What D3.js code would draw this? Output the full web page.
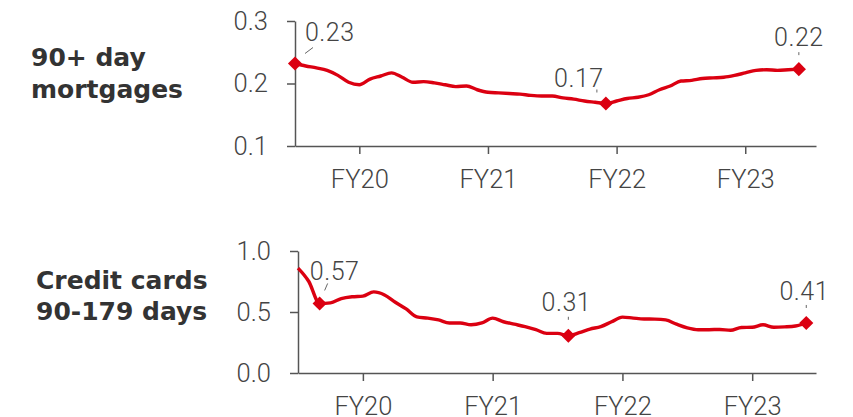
<!DOCTYPE html>
<html lang="en">
<head>
  <meta charset="utf-8">
  <title>Delinquency rates</title>
  <style>
    body { margin: 0; background: #fff; }
    .title { font-family: "DejaVu Sans", sans-serif; font-weight: bold; font-size: 25px; fill: #333; }
    .axis text { font-family: Roboto, sans-serif; font-weight: 300; font-size: 25.5px; fill: #444; }
    .axis path, .axis line { stroke: #555; stroke-width: 1.5px; }
    .note { font-family: Roboto, sans-serif; font-weight: 300; font-size: 25px; fill: #444; letter-spacing: 0.5px; }
    .leader { stroke: #666; stroke-width: 1px; }
    .series { fill: none; stroke: #db0011; stroke-width: 3.4px; stroke-linejoin: round; }
    .marker { fill: #db0011; }
  </style>
</head>
<body>
  <div id="chart"></div>

  <script src="https://cdn.jsdelivr.net/npm/d3@7"></script>
  <script>
    // monthly observations, month 0 = start of chart
    var months = d3.range(48);
    var fyLabels = ["FY20", "FY21", "FY22", "FY23"];
    var fyMonths = [6, 18, 30, 42];

    var mortgages = [0.232, 0.228, 0.225, 0.221, 0.213, 0.202, 0.198, 0.207, 0.212, 0.217,
      0.210, 0.202, 0.203, 0.201, 0.198, 0.195, 0.196, 0.190, 0.186, 0.185,
      0.184, 0.183, 0.181, 0.180, 0.180, 0.177, 0.175, 0.172, 0.170, 0.168,
      0.172, 0.176, 0.178, 0.182, 0.190, 0.196, 0.204, 0.205, 0.208, 0.209,
      0.210, 0.213, 0.217, 0.221, 0.222, 0.221, 0.222, 0.223];

    var cards = [0.86, 0.75, 0.57, 0.575, 0.61, 0.625, 0.63, 0.665, 0.64, 0.58,
      0.525, 0.46, 0.45, 0.435, 0.41, 0.41, 0.395, 0.41, 0.45, 0.42,
      0.40, 0.38, 0.355, 0.325, 0.325, 0.305, 0.33, 0.36, 0.38, 0.42,
      0.458, 0.45, 0.443, 0.442, 0.435, 0.40, 0.37, 0.355, 0.355, 0.357,
      0.35, 0.373, 0.375, 0.395, 0.375, 0.378, 0.385, 0.41];

    var mortgageMarks = [0, 29, 47];
    var mortgageMarkText = ["0.23", "0.17", "0.22"];
    var cardMarks = [2, 25, 47];
    var cardMarkText = ["0.57", "0.31", "0.41"];

    var width = 853, height = 417;

    var svg = d3.select("#chart").append("svg")
        .attr("width", width)
        .attr("height", height);

    var panels = [
      {
        title: ["90+ day", "mortgages"], titleX: 31, titleY: [66, 98],
        values: mortgages, marks: mortgageMarks, markText: mortgageMarkText,
        x: d3.scaleLinear().domain([0, 48.6]).range([295, 816]),
        y: d3.scaleLinear().domain([0.1, 0.3]).range([146, 21]),
        yTicks: [0.1, 0.2, 0.3],
        // label offsets from each marker: [dx, dy, anchor, leader]
        notes: [
          [10, -23, "start", [[10, -10], [18, -16]]],
          [-27, -17, "middle", [[-9, -14], [-9, -11]]],
          [0, -23, "middle", [[0, -17], [0, -14]]]
        ]
      },
      {
        title: ["Credit cards", "90-179 days"], titleX: 36, titleY: [289, 320],
        values: cards, marks: cardMarks, markText: cardMarkText,
        x: d3.scaleLinear().domain([0, 47.9]).range([298, 816]),
        y: d3.scaleLinear().domain([0, 1]).range([373, 251]),
        yTicks: [0, 0.5, 1],
        notes: [
          [15, -23, "middle", [[5, -13], [8, -20]]],
          [-2, -25, "middle", [[0, -19], [0, -16]]],
          [-2, -23, "middle", [[0, -18], [0, -15]]]
        ]
      }
    ];

    panels.forEach(function(p) {
      var g = svg.append("g");

      g.append("text")
          .attr("class", "title")
          .selectAll("tspan")
          .data(p.title)
        .enter().append("tspan")
          .attr("x", p.titleX)
          .attr("y", function(d, i) { return p.titleY[i]; })
          .text(function(d) { return d; });

      var y0 = p.y.range()[0];

      g.append("g")
          .attr("class", "axis")
          .attr("transform", "translate(0," + y0 + ")")
          .call(d3.axisBottom(p.x)
            .tickValues(fyMonths)
            .tickFormat(function(d, i) { return fyLabels[i]; })
            .tickSize(8)
            .tickSizeOuter(0)
            .tickPadding(16));

      g.append("g")
          .attr("class", "axis")
          .attr("transform", "translate(" + p.x.range()[0] + ",0)")
          .call(d3.axisLeft(p.y)
            .tickValues(p.yTicks)
            .tickFormat(d3.format(".1f"))
            .tickSize(8)
            .tickSizeOuter(0)
            .tickPadding(19));

      var line = d3.line()
          .x(function(d, i) { return p.x(months[i]); })
          .y(function(d) { return p.y(d); })
          .curve(d3.curveMonotoneX);

      g.append("path")
          .datum(p.values)
          .attr("class", "series")
          .attr("d", line);

      p.marks.forEach(function(m, k) {
        var mx = p.x(months[m]), my = p.y(p.values[m]);
        var n = p.notes[k];

        g.append("path")
            .attr("class", "marker")
            .attr("transform", "translate(" + mx + "," + my + ") rotate(45)")
            .attr("d", d3.symbol().type(d3.symbolSquare).size(100));

        g.append("line")
            .attr("class", "leader")
            .attr("x1", mx + n[3][0][0]).attr("y1", my + n[3][0][1])
            .attr("x2", mx + n[3][1][0]).attr("y2", my + n[3][1][1]);

        g.append("text")
            .attr("class", "note")
            .attr("x", mx + n[0])
            .attr("y", my + n[1])
            .attr("text-anchor", n[2])
            .text(p.markText[k]);
      });
    });
  </script>
</body>
</html>
